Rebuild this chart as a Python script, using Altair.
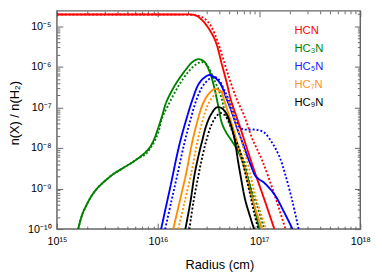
import json
import altair as alt
import pandas as pd

# ---- data (log10 radius [cm], log10 abundance) ----
species = ["HCN", "HC₃N", "HC₅N", "HC₇N", "HC₉N"]
colors = ["#ff0000", "#008000", "#0000ff", "#ff8c00", "#000000"]

hcn_solid_lr = [15.0, 15.5, 16.0, 16.2, 16.33, 16.38, 16.44, 16.50, 16.57, 16.63, 16.68, 16.72, 16.81, 16.95, 17.05, 17.15]
hcn_solid_ln = [-4.71, -4.71, -4.71, -4.71, -4.71, -4.74, -4.86, -5.05, -5.38, -5.93, -6.40, -6.81, -7.48, -8.55, -9.26, -10.0]
hcn_dot_lr = [15.0, 15.5, 16.0, 16.2, 16.37, 16.45, 16.52, 16.59, 16.66, 16.72, 16.78, 16.85, 16.93, 17.03, 17.15, 17.26]
hcn_dot_ln = [-4.71, -4.71, -4.71, -4.71, -4.73, -4.79, -4.98, -5.38, -5.93, -6.40, -6.81, -7.19, -7.76, -8.31, -9.14, -10.0]

hc3n_solid_lr = [15.21, 15.25, 15.29, 15.34, 15.39, 15.44, 15.48, 15.56, 15.65, 15.73, 15.80, 15.87,
                 15.92, 15.96, 16.00, 16.04, 16.08, 16.13, 16.18, 16.28, 16.34, 16.40, 16.46, 16.51, 16.55,
                 16.60, 16.63, 16.67, 16.73, 16.79, 16.84, 16.90, 16.95, 17.00]
hc3n_solid_ln = [-10.0, -9.64, -9.42, -9.19, -9.02, -8.89, -8.80, -8.64, -8.50, -8.38, -8.26, -8.12,
                 -7.98, -7.79, -7.52, -7.21, -6.88, -6.62, -6.40, -6.05, -5.88, -5.81, -5.88, -6.12, -6.45,
                 -7.02, -7.38, -7.60, -7.83, -8.07, -8.38, -8.86, -9.43, -10.0]
hc3n_dot_lr = [15.21, 15.25, 15.29, 15.34, 15.39, 15.44, 15.48, 15.56, 15.65, 15.73, 15.80, 15.87,
               15.92, 15.97, 16.01, 16.04, 16.10, 16.20, 16.30, 16.37, 16.43, 16.49, 16.55, 16.62,
               16.66, 16.73, 16.79, 16.86, 16.91, 16.98, 17.05]
hc3n_dot_ln = [-10.0, -9.64, -9.42, -9.19, -9.02, -8.89, -8.80, -8.64, -8.50, -8.38, -8.26, -8.17,
               -8.02, -7.81, -7.55, -7.26, -6.95, -6.48, -6.12, -5.95, -5.88, -5.98, -6.29, -6.71,
               -7.10, -7.57, -7.98, -8.38, -8.91, -9.43, -10.0]

hc5n_solid_lr = [16.03, 16.08, 16.13, 16.18, 16.22, 16.28, 16.34, 16.40, 16.46, 16.51, 16.56, 16.62, 16.67, 16.73, 16.78,
                 16.84, 16.91, 16.97, 17.05, 17.15, 17.24, 17.33]
hc5n_solid_ln = [-10.0, -9.43, -8.86, -8.26, -7.83, -7.29, -6.81, -6.43, -6.26, -6.20, -6.26, -6.43, -6.74, -7.12, -7.50,
                 -7.90, -8.38, -8.71, -8.86, -9.14, -9.55, -10.0]
hc5n_dot_lr = [16.07, 16.13, 16.19, 16.26, 16.32, 16.38, 16.44, 16.50, 16.55, 16.60, 16.65, 16.71, 16.77, 16.82, 16.88,
               16.97, 17.05, 17.13, 17.20, 17.26, 17.33, 17.39]
hc5n_dot_ln = [-10.0, -9.33, -8.67, -7.88, -7.31, -6.81, -6.48, -6.31, -6.24, -6.31, -6.55, -6.88, -7.31, -7.52, -7.55,
               -7.55, -7.62, -7.88, -8.21, -8.67, -9.33, -10.0]

hc7n_solid_lr = [16.15, 16.21, 16.28, 16.34, 16.39, 16.44, 16.50, 16.56, 16.62, 16.66, 16.71, 16.76, 16.81, 16.86, 16.91, 16.97, 17.03]
hc7n_solid_ln = [-10.0, -9.36, -8.60, -7.83, -7.33, -6.93, -6.67, -6.55, -6.60, -6.88, -7.26, -7.67, -8.10, -8.55, -9.07, -9.57, -10.0]
hc7n_dot_lr = [16.20, 16.26, 16.33, 16.39, 16.44, 16.49, 16.55, 16.61, 16.66, 16.71, 16.76, 16.81, 16.86, 16.91, 16.95, 17.01, 17.07]
hc7n_dot_ln = [-10.0, -9.36, -8.60, -7.83, -7.33, -6.95, -6.71, -6.60, -6.67, -6.93, -7.31, -7.71, -8.14, -8.60, -9.07, -9.57, -10.0]

hc9n_solid_lr = [16.27, 16.32, 16.36, 16.40, 16.44, 16.47, 16.52, 16.58, 16.63, 16.68, 16.73, 16.76, 16.79, 16.82, 16.86, 16.91, 16.95]
hc9n_solid_ln = [-10.0, -9.33, -8.67, -8.19, -7.79, -7.50, -7.19, -7.00, -7.02, -7.17, -7.52, -7.83, -8.31, -8.74, -9.26, -9.69, -10.0]
hc9n_dot_lr = [16.31, 16.35, 16.40, 16.44, 16.48, 16.52, 16.57, 16.62, 16.66, 16.71, 16.76, 16.81, 16.86, 16.91, 16.95, 16.99]
hc9n_dot_ln = [-10.0, -9.33, -8.67, -8.19, -7.79, -7.48, -7.24, -7.14, -7.19, -7.40, -7.76, -8.07, -8.60, -9.14, -9.60, -10.0]

x_major = [1e15, 1e16, 1e17, 1e18]
x_labels = ["10¹⁵", "10¹⁶", "10¹⁷", "10¹⁸"]
y_major = [1e-10, 1e-9, 1e-8, 1e-7, 1e-6, 1e-5]
y_labels = ["10⁻¹⁰", "10⁻⁹", "10⁻⁸", "10⁻⁷", "10⁻⁶", "10⁻⁵"]
x_minor = [k * 10.0 ** e for e in (15, 16, 17) for k in range(2, 10)]
y_minor = [k * 10.0 ** e for e in (-10, -9, -8, -7, -6) for k in range(2, 10)] + [2e-5]

series = [
    ("HCN", "solid", hcn_solid_lr, hcn_solid_ln),
    ("HCN", "dotted", hcn_dot_lr, hcn_dot_ln),
    ("HC₃N", "solid", hc3n_solid_lr, hc3n_solid_ln),
    ("HC₃N", "dotted", hc3n_dot_lr, hc3n_dot_ln),
    ("HC₅N", "solid", hc5n_solid_lr, hc5n_solid_ln),
    ("HC₅N", "dotted", hc5n_dot_lr, hc5n_dot_ln),
    ("HC₇N", "solid", hc7n_solid_lr, hc7n_solid_ln),
    ("HC₇N", "dotted", hc7n_dot_lr, hc7n_dot_ln),
    ("HC₉N", "solid", hc9n_solid_lr, hc9n_solid_ln),
    ("HC₉N", "dotted", hc9n_dot_lr, hc9n_dot_ln),
]

rows = []
for i, (sp, st, lrs, lns) in enumerate(series):
    for lr, ln in zip(lrs, lns):
        rows.append({"species": sp, "style": st, "key": f"{i:02d}", "r": 10 ** lr, "n": 10 ** ln})
df = pd.DataFrame(rows)

FONT = "Liberation Sans"
AX = "#666666"
W, H = 310, 223

xscale = alt.Scale(type="log", domain=[1e15, 1e18], nice=False)
yscale = alt.Scale(type="log", domain=[1e-10, 2.4e-5], nice=False)

lines = alt.Chart(df).mark_line(strokeWidth=1.9, interpolate="catmull-rom", clip=True).encode(
    x=alt.X("r:Q", scale=xscale, axis=None),
    y=alt.Y("n:Q", scale=yscale, axis=None),
    color=alt.Color("species:N", scale=alt.Scale(domain=species, range=colors), legend=None),
    strokeDash=alt.StrokeDash("style:N", scale=alt.Scale(domain=["solid", "dotted"], range=[[1, 0], [2, 2]]), legend=None),
    detail="key:N",
)


def axis_layer(xaxis, yaxis):
    return alt.Chart(df).mark_point(opacity=0).encode(
        x=alt.X("r:Q", scale=xscale, axis=xaxis),
        y=alt.Y("n:Q", scale=yscale, axis=yaxis),
    )


def tick_axis(orient, values, size):
    return alt.Axis(orient=orient, offset=-size, tickSize=size, values=values, labels=False,
                    domain=False, grid=False, title=None, tickColor=AX, tickWidth=1)


xlab_expr = json.dumps(x_labels, ensure_ascii=False) + "[round(log(datum.value)/LN10) - 15]"
ylab_expr = json.dumps(y_labels, ensure_ascii=False) + "[round(log(datum.value)/LN10) + 10]"

label_layer = axis_layer(
    alt.Axis(orient="bottom", values=x_major, labelExpr=xlab_expr, ticks=False, tickSize=0, domain=False,
             grid=False, labelPadding=7, labelFont=FONT, labelFontSize=11, labelColor="black",
             labelFlush=False, labelOverlap=False,
             title="Radius (cm)", titleFont=FONT, titleFontSize=13, titleFontWeight="normal",
             titleColor="black", titleX=166, titleY=40, titleBaseline="alphabetic"),
    alt.Axis(orient="left", values=y_major, labelExpr=ylab_expr, ticks=False, tickSize=0, domain=False,
             grid=False, labelPadding=6, labelFont=FONT, labelFontSize=11, labelColor="black",
             labelFlush=False, labelOverlap=False,
             title="n(X) / n(H₂)", titleFont=FONT, titleFontSize=13, titleFontWeight="normal",
             titleColor="black", titleX=-43, titleY=104, titleBaseline="middle", titleAlign="center"),
)

tick_layers = [
    axis_layer(tick_axis("bottom", x_major, 6), tick_axis("left", y_major, 6)),
    axis_layer(tick_axis("top", x_major, 6), tick_axis("right", y_major, 6)),
    axis_layer(tick_axis("bottom", x_minor, 3), tick_axis("left", y_minor, 3)),
    axis_layer(tick_axis("top", x_minor, 3), tick_axis("right", y_minor, 3)),
]

legend_colors = ["#ff0000", "#008000", "#2020ff", "#ff9020", "#000000"]
legend_layers = []
for i, (lab, col) in enumerate(zip(species, legend_colors)):
    legend_layers.append(
        alt.Chart(pd.DataFrame({"t": [lab]})).mark_text(
            align="left", baseline="alphabetic", font=FONT, fontSize=11.5, color=col
        ).encode(x=alt.value(242.7), y=alt.value(23.7 + i * 18.3), text="t:N")
    )

chart = alt.layer(*tick_layers, label_layer, lines, *legend_layers).resolve_axis(
    x="independent", y="independent"
).properties(
    width=W, height=H, autosize="none",
    padding={"left": 50, "top": 0, "right": 14, "bottom": 45},
).configure_view(stroke=AX, strokeWidth=1.5)

chart.save("out.html", embed_options={"renderer": "svg", "actions": False})
